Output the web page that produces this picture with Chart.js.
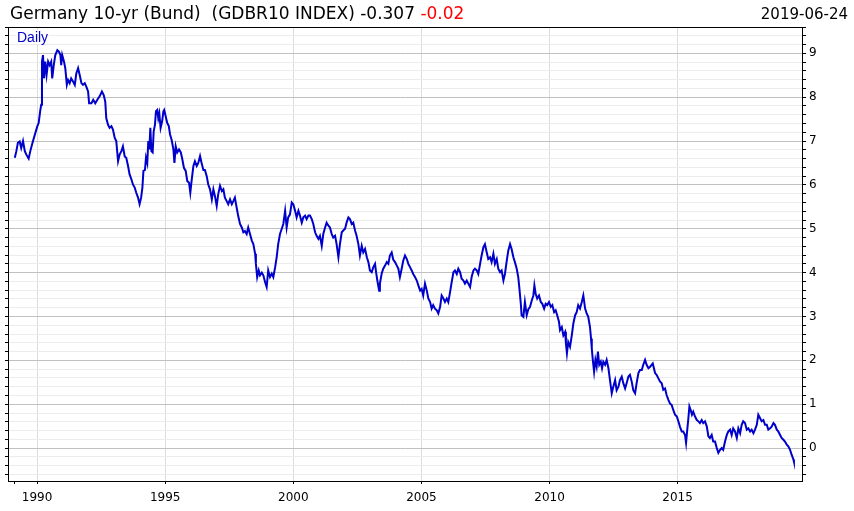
<!DOCTYPE html>
<html>
<head>
<meta charset="utf-8">
<script src="https://cdn.jsdelivr.net/npm/chart.js@4.4.1/dist/chart.umd.min.js"></script>
<style>
  html, body { margin: 0; padding: 0; background: #fff; }
  #wrap { position: relative; width: 854px; height: 511px; overflow: hidden; }
  canvas { position: absolute; left: 0; top: 0; }
  .title { position: absolute; left: 10px; top: 5px; font: 17px "DejaVu Sans", Verdana, sans-serif; line-height: 17px; color: #000; white-space: pre; }
  .date { position: absolute; right: 6px; top: 7px; font: 15px "DejaVu Sans", Verdana, sans-serif; line-height: 15px; color: #000; }
  .daily { position: absolute; left: 16px; top: 30px; font: 14px "Liberation Sans", Arial, sans-serif; line-height: 14px; color: #0000cc; background: #fff; padding: 0 1px; }
  .red { color: #ff0000; }
</style>
</head>
<body>
<div id="wrap">
  <canvas id="c" width="854" height="511"></canvas>
  <div class="title">Germany 10-yr (Bund)  (GDBR10 INDEX) -0.307 <span class="red">-0.02</span></div>
  <div class="date">2019-06-24</div>
  <div class="daily">Daily</div>
</div>
<script>
// ---- Data (decimal year, yield %) ----
const dates = [
1989.13,1989.19,1989.25,1989.32,1989.38,1989.45,1989.52,1989.58,1989.67,1989.75,1989.84,1989.93,
1990.01,1990.06,1990.12,1990.16,1990.19,1990.23,1990.27,1990.32,1990.37,1990.43,1990.49,1990.55,1990.59,1990.65,1990.71,1990.79,1990.85,1990.91,1990.94,1990.98,
1991.05,1991.10,1991.16,1991.21,1991.27,1991.33,1991.40,1991.47,1991.53,1991.60,1991.66,1991.73,1991.79,1991.86,1991.92,1991.99,
1992.03,1992.12,1992.19,1992.27,1992.35,1992.44,1992.53,1992.60,1992.66,1992.70,1992.77,1992.83,1992.90,1992.96,
1993.03,1993.09,1993.16,1993.22,1993.29,1993.35,1993.42,1993.48,1993.55,1993.61,1993.68,1993.74,1993.81,1993.87,1993.94,
1994.00,1994.06,1994.11,1994.15,1994.21,1994.25,1994.30,1994.34,1994.38,1994.42,1994.46,1994.51,1994.55,1994.60,1994.64,1994.69,1994.73,1994.77,1994.82,1994.88,1994.93,1994.96,
1995.02,1995.08,1995.14,1995.19,1995.25,1995.32,1995.36,1995.41,1995.47,1995.54,1995.61,1995.67,1995.73,1995.80,1995.86,1995.93,1995.98,
1996.03,1996.10,1996.16,1996.23,1996.29,1996.36,1996.42,1996.49,1996.55,1996.62,1996.68,1996.75,1996.82,1996.88,1996.94,
1997.01,1997.07,1997.14,1997.21,1997.27,1997.33,1997.40,1997.46,1997.53,1997.60,1997.66,1997.72,1997.79,1997.85,1997.92,1997.99,
1998.05,1998.11,1998.18,1998.24,1998.31,1998.38,1998.44,1998.51,1998.54,1998.59,1998.65,1998.70,1998.77,1998.83,1998.90,1998.96,
1999.02,1999.09,1999.16,1999.22,1999.29,1999.35,1999.41,1999.48,1999.55,1999.61,1999.68,1999.74,1999.80,1999.87,1999.94,
2000.00,2000.07,2000.13,2000.20,2000.26,2000.33,2000.39,2000.46,2000.52,2000.59,2000.65,2000.72,2000.78,2000.85,2000.91,2000.98,
2001.04,2001.11,2001.17,2001.24,2001.30,2001.37,2001.43,2001.50,2001.56,2001.63,2001.69,2001.76,2001.82,2001.89,2001.95,
2002.02,2002.08,2002.15,2002.21,2002.28,2002.34,2002.41,2002.47,2002.54,2002.60,2002.67,2002.73,2002.80,2002.87,2002.93,2002.99,
2003.06,2003.12,2003.19,2003.23,2003.28,2003.35,2003.38,2003.45,2003.51,2003.58,2003.65,2003.71,2003.77,2003.84,2003.90,2003.97,
2004.04,2004.10,2004.16,2004.23,2004.29,2004.36,2004.43,2004.49,2004.56,2004.62,2004.68,2004.75,2004.82,2004.88,2004.95,
2005.01,2005.07,2005.14,2005.21,2005.27,2005.34,2005.40,2005.46,2005.53,2005.60,2005.66,2005.73,2005.79,2005.86,2005.92,2005.99,
2006.05,2006.12,2006.18,2006.25,2006.31,2006.38,2006.44,2006.51,2006.57,2006.64,2006.70,2006.77,2006.83,2006.90,2006.96,
2007.03,2007.09,2007.16,2007.22,2007.29,2007.35,2007.42,2007.48,2007.55,2007.61,2007.68,2007.74,2007.81,2007.87,2007.94,
2008.00,2008.07,2008.13,2008.20,2008.26,2008.33,2008.39,2008.46,2008.52,2008.59,2008.65,2008.72,2008.78,2008.82,2008.88,2008.91,2008.98,
2009.04,2009.11,2009.17,2009.24,2009.31,2009.37,2009.41,2009.46,2009.52,2009.59,2009.66,2009.72,2009.79,2009.85,2009.91,2009.98,
2010.05,2010.11,2010.18,2010.24,2010.30,2010.37,2010.41,2010.48,2010.54,2010.61,2010.64,2010.68,2010.73,2010.80,2010.87,2010.93,
2011.00,2011.06,2011.12,2011.19,2011.26,2011.32,2011.39,2011.45,2011.51,2011.58,2011.62,2011.65,2011.69,2011.74,2011.79,2011.84,2011.89,2011.94,
2012.00,2012.05,2012.10,2012.17,2012.23,2012.30,2012.36,2012.43,2012.49,2012.56,2012.62,2012.69,2012.75,2012.82,2012.88,2012.95,
2013.01,2013.08,2013.14,2013.21,2013.27,2013.34,2013.40,2013.47,2013.53,2013.60,2013.66,2013.73,2013.79,2013.86,2013.92,
2014.03,2014.12,2014.18,2014.25,2014.31,2014.38,2014.44,2014.51,2014.57,2014.64,2014.70,2014.77,2014.83,2014.90,2014.97,
2015.03,2015.09,2015.16,2015.22,2015.29,2015.33,2015.37,2015.42,2015.46,2015.51,2015.56,2015.61,2015.68,2015.75,2015.81,2015.87,2015.94,
2016.00,2016.07,2016.14,2016.20,2016.26,2016.33,2016.39,2016.46,2016.53,2016.59,2016.66,2016.72,2016.78,2016.85,2016.92,2016.98,
2017.05,2017.11,2017.17,2017.24,2017.31,2017.37,2017.44,2017.50,2017.56,2017.63,2017.70,2017.76,2017.83,2017.89,2017.96,
2018.02,2018.09,2018.15,2018.22,2018.28,2018.35,2018.41,2018.48,2018.54,2018.61,2018.67,2018.74,2018.80,2018.87,2018.93,
2019.00,2019.06,2019.13,2019.19,2019.26,2019.32,2019.39,2019.45,2019.52,2019.54
];
const yields = [
6.62,6.77,6.96,6.99,6.84,7.00,6.77,6.69,6.60,6.81,7.00,7.18,
7.34,7.41,7.68,7.83,8.81,8.96,8.43,8.81,8.51,8.81,8.73,8.81,8.43,8.73,8.96,9.07,9.04,8.96,8.73,8.96,
8.81,8.66,8.28,8.39,8.32,8.43,8.36,8.28,8.54,8.66,8.51,8.32,8.28,8.32,8.24,8.13,
7.86,7.86,7.94,7.86,7.94,8.02,8.13,8.05,7.90,7.52,7.37,7.30,7.34,7.26,
7.07,7.00,6.54,6.69,6.77,6.88,6.65,6.62,6.43,6.24,6.13,6.01,5.94,5.82,5.71,
5.56,5.71,5.94,6.32,6.34,6.62,6.50,7.00,6.81,7.30,6.77,6.74,7.22,7.37,7.68,7.71,7.52,7.63,7.30,7.45,7.68,7.71,
7.56,7.41,7.34,7.15,7.03,6.81,6.50,6.88,6.74,6.81,6.74,6.58,6.39,6.32,6.09,6.05,5.82,
6.09,6.43,6.54,6.43,6.50,6.66,6.50,6.34,6.34,6.20,6.01,5.90,5.67,5.90,5.75,
5.52,5.79,5.98,5.86,5.90,5.71,5.63,5.56,5.67,5.56,5.63,5.71,5.48,5.29,5.11,5.03,
4.92,4.95,4.88,5.03,4.88,4.73,4.65,4.43,4.20,3.90,4.05,3.94,4.00,3.94,3.78,3.67,
4.05,3.90,3.98,3.90,4.12,4.35,4.65,4.88,5.00,5.11,5.41,5.03,5.26,5.33,5.60,
5.56,5.41,5.26,5.41,5.30,5.14,5.26,5.30,5.22,5.30,5.30,5.22,5.11,4.92,4.84,4.77,
4.84,4.61,4.88,5.03,5.14,5.07,5.03,4.88,4.80,4.84,4.65,4.35,4.65,4.92,4.96,
5.00,5.14,5.26,5.22,5.11,5.14,4.96,4.84,4.65,4.39,4.61,4.46,4.54,4.35,4.24,4.05,
4.01,4.12,4.20,4.01,3.82,3.59,3.75,3.98,4.09,4.16,4.24,4.20,4.39,4.46,4.30,4.24,
4.16,4.09,3.90,4.09,4.27,4.39,4.31,4.20,4.12,4.05,3.97,3.90,3.82,3.71,3.59,
3.63,3.48,3.75,3.59,3.41,3.33,3.18,3.26,3.18,3.14,3.07,3.22,3.48,3.41,3.33,3.41,
3.33,3.56,3.78,4.01,4.05,3.97,4.09,4.01,3.86,3.82,3.75,3.82,3.75,3.67,3.90,
4.05,4.09,4.05,3.97,4.20,4.39,4.58,4.65,4.46,4.31,4.35,4.24,4.43,4.20,4.31,
4.09,4.01,4.05,3.82,3.97,4.27,4.50,4.65,4.54,4.35,4.24,4.09,3.90,3.67,3.29,3.03,2.99,
3.33,3.03,3.16,3.22,3.37,3.48,3.71,3.52,3.41,3.48,3.33,3.29,3.18,3.29,3.26,3.33,
3.22,3.26,3.10,3.14,3.03,2.88,2.69,2.76,2.57,2.65,2.39,2.16,2.42,2.31,2.57,2.84,
3.03,3.10,3.26,3.18,3.33,3.48,3.18,3.07,3.00,2.76,2.50,2.27,2.01,1.74,2.01,1.86,2.20,1.90,
1.97,1.82,1.97,1.90,2.01,1.82,1.55,1.25,1.40,1.55,1.32,1.40,1.55,1.63,1.48,1.36,
1.48,1.63,1.67,1.51,1.32,1.25,1.48,1.71,1.78,1.78,1.90,2.01,1.90,1.82,1.85,
1.93,1.71,1.67,1.59,1.52,1.48,1.33,1.36,1.21,1.10,1.02,0.98,0.87,0.76,0.72,
0.61,0.49,0.38,0.38,0.30,0.12,0.38,0.68,0.95,0.87,0.76,0.83,0.72,0.64,0.61,0.57,0.64,
0.57,0.61,0.49,0.27,0.23,0.30,0.15,0.15,0.00,-0.11,-0.04,0.00,-0.04,0.15,0.30,0.38,
0.42,0.30,0.45,0.38,0.23,0.45,0.34,0.53,0.61,0.57,0.42,0.45,0.38,0.42,0.34,
0.42,0.53,0.76,0.68,0.61,0.64,0.53,0.53,0.42,0.45,0.49,0.57,0.53,0.42,0.38,
0.30,0.23,0.19,0.15,0.08,0.04,-0.04,-0.15,-0.26,-0.31
];
const xTickYears = [1990, 1995, 2000, 2005, 2010, 2015];
const xStartTick = 1989.13;
const yTickLabels = [0, 1, 2, 3, 4, 5, 6, 7, 8, 9];

const Y_MIN = -0.75, Y_MAX = 9.6;
const X_MIN = 1988.864, X_MAX = 2019.894;

const points = dates.map((d, i) => ({ x: d, y: yields[i] }));

function yTicks(scale) {
  const t = [];
  for (let k = -3; k <= 48; k++) t.push({ value: Math.round(k * 2) / 10 });
  scale.ticks = t;
}
const isInt = v => Math.abs(v - Math.round(v)) < 1e-6;

const boxPlugin = {
  id: 'box',
  afterDraw(chart) {
    const a = chart.chartArea, ctx = chart.ctx;
    ctx.save();
    ctx.strokeStyle = '#000';
    ctx.lineWidth = 1;
    ctx.strokeRect(Math.round(a.left) + 0.5, Math.round(a.top) + 0.5,
                   Math.round(a.right - a.left) - 1, Math.round(a.bottom - a.top));
    ctx.restore();
  }
};

new Chart(document.getElementById('c'), {
  type: 'line',
  data: {
    datasets: [{
      data: points,
      borderColor: '#0000cc',
      borderWidth: 2,
      pointRadius: 0,
      tension: 0,
      fill: false
    }]
  },
  options: {
    responsive: false,
    animation: false,
    devicePixelRatio: 1,
    layout: { padding: { top: 27, left: 0, right: 0, bottom: 0 } },
    plugins: { legend: { display: false }, title: { display: false }, tooltip: { enabled: false } },
    scales: {
      x: {
        type: 'linear',
        min: X_MIN, max: X_MAX,
        afterBuildTicks: s => { s.ticks = [xStartTick].concat(xTickYears).map(v => ({ value: v })); },
        afterFit: s => { s.height = 30; },
        border: { display: false },
        grid: {
          color: c => (c.tick && xTickYears.includes(c.tick.value)) ? '#dcdcdc' : 'rgba(0,0,0,0)',
          tickColor: '#000',
          tickLength: 3,
          lineWidth: 1
        },
        ticks: {
          autoSkip: false,
          maxRotation: 0,
          padding: 7,
          color: '#000',
          font: { family: 'DejaVu Sans', size: 12 },
          callback: v => xTickYears.includes(v) ? String(v) : ''
        }
      },
      y: {
        type: 'linear',
        position: 'right',
        min: Y_MIN, max: Y_MAX,
        afterBuildTicks: yTicks,
        afterFit: s => { s.width = 51; },
        border: { display: false },
        grid: {
          color: c => (c.tick && isInt(c.tick.value)) ? '#c0c0c0' : '#ececec',
          tickColor: '#000',
          tickLength: 3,
          lineWidth: 1
        },
        ticks: {
          autoSkip: false,
          padding: 3,
          color: '#000',
          font: { family: 'DejaVu Sans', size: 12 },
          callback: v => (isInt(v) && yTickLabels.includes(Math.round(v))) ? String(Math.round(v)) : ''
        }
      },
      yl: {
        type: 'linear',
        position: 'left',
        min: Y_MIN, max: Y_MAX,
        afterBuildTicks: yTicks,
        afterFit: s => { s.width = 8; },
        border: { display: false },
        grid: { drawOnChartArea: false, tickColor: '#000', tickLength: 3 },
        ticks: { display: false, autoSkip: false }
      }
    }
  },
  plugins: [boxPlugin]
});
</script>
</body>
</html>
